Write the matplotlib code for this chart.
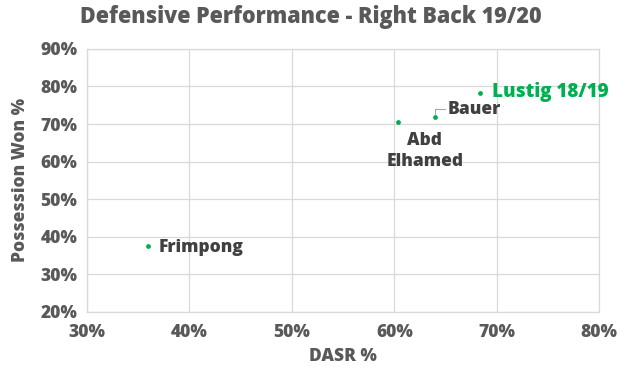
import numpy as np
import matplotlib
matplotlib.use('Agg')
import matplotlib.pyplot as plt
from matplotlib.ticker import PercentFormatter

# Data (DASR %, Possession Won %)
players = ['Frimpong', 'Abd\nElhamed', 'Bauer', 'Lustig 18/19']
dasr = [36.0, 60.4, 64.0, 68.4]
poss_won = [37.5, 70.6, 71.9, 78.2]
label_colors = ['#404040', '#404040', '#404040', '#00B050']
x_ticks = [30, 40, 50, 60, 70, 80]
y_ticks = [20, 30, 40, 50, 60, 70, 80, 90]

plt.rcParams['font.family'] = ['Open Sans', 'DejaVu Sans']
grey = '#595959'
W = 800  # extra bold

fig = plt.figure(figsize=(6.21, 3.79), dpi=100)
ax = fig.add_axes([0.140, 0.177, 0.825, 0.694])

ax.scatter(dasr, poss_won, s=12, color='#00B050', zorder=3, linewidths=0)

# Labels
offsets = [(7, -1, 'left', 'center'),
           (19, -7, 'center', 'top'),
           (9, 5, 'left', 'center'),
           (8, 1, 'left', 'center')]
for i, name in enumerate(players):
    dx, dy, ha, va = offsets[i]
    ax.annotate(name, (dasr[i], poss_won[i]), xytext=(dx, dy),
                textcoords='offset points', ha=ha, va=va,
                fontsize=12.5 if i < 3 else 13.5, fontweight=W,
                color=label_colors[i], linespacing=1.35, zorder=4)

# small leader line for Bauer
ax.annotate('', (dasr[2], poss_won[2]), xytext=(7, 6),
            textcoords='offset points',
            arrowprops=dict(arrowstyle='-', color='#A6A6A6', lw=0.8,
                            connectionstyle='angle,angleA=0,angleB=90,rad=0',
                            shrinkA=0, shrinkB=2))

ax.set_xlim(30, 80)
ax.set_ylim(20, 90)
ax.set_xticks(x_ticks)
ax.set_yticks(y_ticks)
ax.xaxis.set_major_formatter(PercentFormatter(decimals=0))
ax.yaxis.set_major_formatter(PercentFormatter(decimals=0))
ax.grid(True, color='#D9D9D9', linewidth=0.9)
ax.set_axisbelow(True)
for s in ax.spines.values():
    s.set_color('#D9D9D9')
    s.set_linewidth(0.9)
ax.tick_params(axis='x', pad=9)
ax.tick_params(axis='y', pad=7)
ax.tick_params(length=0, labelsize=12.5, labelcolor=grey)
for lbl in ax.get_xticklabels() + ax.get_yticklabels():
    lbl.set_fontweight(W)

ax.set_xlabel('DASR %', fontsize=12.5, fontweight=W, color=grey, labelpad=5)
ax.set_ylabel('Possession Won %', fontsize=12.5, fontweight=W, color=grey, labelpad=8)
fig.text(0.5, 0.955, 'Defensive Performance - Right Back 19/20', ha='center',
         va='center', fontsize=15.5, fontweight=W, color=grey)

fig.savefig('out.png', dpi=100)
